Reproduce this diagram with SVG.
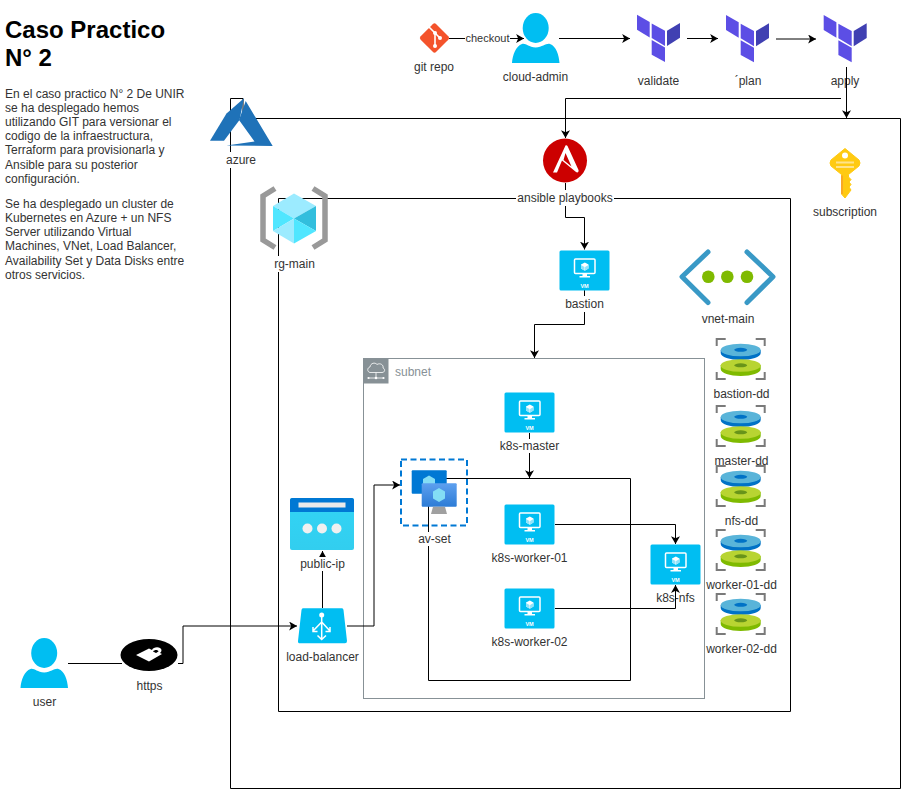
<svg xmlns="http://www.w3.org/2000/svg" width="901" height="789" viewBox="0 0 901 789">
<style>
text{font-family:"Liberation Sans",Arial,sans-serif;font-size:12px;fill:#333}
.l{text-anchor:middle}
.box{fill:none;stroke:#000;stroke-width:1}
.c{fill:none;stroke:#000;stroke-width:1;marker-end:url(#a)}
.n{fill:none;stroke:#000;stroke-width:1}
.bg{fill:#fff}
</style>
<defs>
<marker id="a" viewBox="0 0 8 8" refX="7" refY="4" markerWidth="9" markerHeight="9" markerUnits="userSpaceOnUse" orient="auto"><path d="M0,0L7,4L0,8L1.8,4Z" fill="#000"/></marker>
<linearGradient id="pip" x1="0" y1="0" x2="0" y2="1"><stop offset="0" stop-color="#32D4F5"/><stop offset="1" stop-color="#32CEEF"/></linearGradient>
<linearGradient id="mon" x1="0" y1="0" x2="0" y2="1"><stop offset="0" stop-color="#5EA0EF"/><stop offset="1" stop-color="#2C7CD6"/></linearGradient>
<g id="tf">
<path d="M0,0L12.7,7.3V22.7L0,15Z" fill="#5C4EE5"/>
<path d="M14.7,8.7L28,16V31.3L14.7,23.3Z" fill="#5C4EE5"/>
<path d="M30,16L43,8.3V23L30,31.3Z" fill="#4040B2"/>
<path d="M14.7,25.3L28,32.7V47.3L14.7,40Z" fill="#5C4EE5"/>
</g>
<g id="usr">
<ellipse cx="23.7" cy="15" rx="13" ry="15" fill="#00BEF2"/>
<path d="M0,50C0.5,42 4,33 10,31C14,30 16,34 23.7,34.5C31,34 34,30 38,31C44,33 47,42 47.5,50Z" fill="#00BEF2"/>
</g>
<g id="vm">
<rect width="50" height="40" rx="1.5" fill="#00BEF2"/>
<rect x="15" y="8.5" width="20.5" height="14.5" rx="1" fill="#00BEF2" stroke="#fff" stroke-width="1.5"/>
<path d="M21.5,14L25.3,12L29,14V18L25.3,20.2L21.5,18Z" fill="#fff"/>
<path d="M21.5,14.6L25,16.4V20L21.5,18Z M25.6,16.4L29,14.6V18L25.6,20Z" fill="#8fe3fa"/>
<path d="M23,23H27.5V25.5H30.5V27H20V25.5H23Z" fill="#fff"/>
<text x="25" y="37" text-anchor="middle" style="font-size:5.5px;font-weight:bold;fill:#fff">VM</text>
</g>
<g id="disk">
<path d="M1,8V1H10M40,1H49V8M1,34V41H10M40,41H49V34" fill="none" stroke="#7a7a7a" stroke-width="2"/>
<path d="M5,12V15C5,19 14,22 25,22C36,22 45,19 45,15V12Z" fill="#0072C6"/>
<ellipse cx="25" cy="12" rx="20" ry="6.3" fill="#59B4D9"/>
<ellipse cx="25" cy="11.8" rx="6.5" ry="2" fill="#0072C6"/>
<path d="M5,27V31C5,35 14,38 25,38C36,38 45,35 45,31V27Z" fill="#7FBA00"/>
<ellipse cx="25" cy="27.5" rx="20" ry="6.3" fill="#B8D432"/>
<ellipse cx="25" cy="27.3" rx="6.5" ry="2" fill="#68941A"/>
</g>
</defs>

<g id="containers">
<path class="box" d="M230.5,98.5H243V118.5H900.5V788.5H230.5Z"/>
<path class="box" d="M278.5,198.5H790.5V711.5H278.5Z"/>
<rect x="363.5" y="358.5" width="341" height="340" fill="none" stroke="#879196"/>
</g>

<g id="node-apply">
<use href="#tf" x="823.7" y="15"/>
<text class="l" x="845" y="85">apply</text>
</g>
<g id="node-k8s-nfs">
<use href="#vm" x="650.5" y="544.5"/>
<text class="l" x="675.5" y="602">k8s-nfs</text>
</g>

<g id="connectors">
<path class="c" d="M449,38.5H524"/>
<path class="c" d="M559,38.5H630"/>
<path class="c" d="M687,38.5H718"/>
<path class="c" d="M776,39H816"/>
<path class="c" d="M846.5,67V118"/>
<path class="c" d="M841,98.5H565.5V138"/>
<path class="c" d="M565.5,183V217.5H584.5V249.5"/>
<path class="c" d="M584.5,290V324.5H534.5V358"/>
<path class="c" d="M529.5,433V478"/>
<path class="n" d="M446,478.5H630.5V680.5H428.5V506"/>
<path class="c" d="M555,524.5H675.5V544"/>
<path class="c" d="M555,608.5H675.5V585"/>
<path class="c" d="M347,626H374V485H400"/>
<path class="c" d="M322.5,608V551"/>
<path class="n" d="M68,663.5H122"/>
<path class="c" d="M178,663.5H183V626H297"/>
</g>

<g id="title">
<text x="5" y="38" style="font-size:24px;font-weight:bold;fill:#000">Caso Practico</text>
<text x="5" y="66" style="font-size:24px;font-weight:bold;fill:#000">N° 2</text>
<text x="5" y="98">En el caso practico N° 2 De UNIR</text>
<text x="5" y="112">se ha desplegado hemos</text>
<text x="5" y="126">utilizando GIT para versionar el</text>
<text x="5" y="140">codigo de la infraestructura,</text>
<text x="5" y="154">Terraform para provisionarla y</text>
<text x="5" y="169">Ansible para su posterior</text>
<text x="5" y="183">configuración.</text>
<text x="5" y="208">Se ha desplegado un cluster de</text>
<text x="5" y="222">Kubernetes en Azure + un NFS</text>
<text x="5" y="236">Server utilizando Virtual</text>
<text x="5" y="250">Machines, VNet, Load Balancer,</text>
<text x="5" y="265">Availability Set y Data Disks entre</text>
<text x="5" y="279">otros servicios.</text>
</g>

<g id="edge-label-checkout">
<rect class="bg" x="465" y="31" width="45" height="15"/>
<text class="l" x="487.5" y="42" style="font-size:11px">checkout</text>
</g>

<g id="node-git-repo">
<rect x="423.5" y="27" width="22" height="22" rx="2.5" transform="rotate(45 434.5 38)" fill="#F4532B"/>
<path d="M429,27L440,38M435,33V47" fill="none" stroke="#fff" stroke-width="1.6"/>
<circle cx="435" cy="33" r="2" fill="#fff"/><circle cx="440" cy="38" r="2" fill="#fff"/><circle cx="435" cy="46" r="2" fill="#fff"/>
<text class="l" x="434" y="71">git repo</text>
</g>
<g id="node-cloud-admin">
<use href="#usr" x="512" y="13"/>
<text class="l" x="535.5" y="81">cloud-admin</text>
</g>
<g id="node-validate">
<use href="#tf" x="637" y="14.7"/>
<text class="l" x="658.5" y="85">validate</text>
</g>
<g id="node-plan">
<use href="#tf" x="726" y="15"/>
<text class="l" x="748" y="85">´plan</text>
</g>

<g id="node-azure">
<path d="M244,98.3L226.5,113.5L210,140.7H224L239.5,120Z" fill="#1F72B8"/>
<path d="M245.7,101L239,120L254.5,141.5L226.5,145.5L272.7,146Z" fill="#1F72B8"/>
<rect class="bg" x="225" y="152" width="32" height="16"/>
<text class="l" x="241" y="164">azure</text>
</g>

<g id="node-rg-main">
<path d="M275,188.5L263,196V240L275,247.5M313,188.5L325,196V240L313,247.5" fill="none" stroke="#999" stroke-width="5.5"/>
<path d="M294,193.5L316,206L294,218.5L273,206Z" fill="#9CEBFF"/>
<path d="M273,206L294,218.5L273,231Z" fill="#50E6FF"/>
<path d="M316,206V231L294,218.5Z" fill="#32BEDD"/>
<path d="M273,231L294,218.5V243.5Z" fill="#9CEBFF"/>
<path d="M316,231L294,218.5V243.5Z" fill="#50E6FF"/>
<rect class="bg" x="274" y="256" width="41" height="16"/>
<text class="l" x="294.5" y="268">rg-main</text>
</g>

<g id="node-ansible">
<circle cx="565" cy="160.5" r="22" fill="#CC0000"/>
<path d="M565.5,145.5L553,172.5H557L562,160.5L576,172C577.5,173 579,172 578.5,170L567.5,146C567,145 566,145 565.5,145.5ZM565.5,153L571.5,166.5L563.5,160Z" fill="#fff" fill-rule="evenodd"/>
<rect class="bg" x="516" y="190" width="98" height="16"/>
<text class="l" x="565" y="202">ansible playbooks</text>
</g>

<g id="node-subscription">
<path d="M845,148.5L859,160Q861,163 859,166L848.5,174.5V177L851,179.5L849,182L851,184.5L849,187L851,190L845,198L841.5,194V174.5L831,166Q829,163 831,160Z" fill="#FFCA12" stroke="#FFCA12" stroke-linejoin="round"/>
<circle cx="845" cy="155.5" r="3" fill="#fff"/>
<path d="M836,162.5H854M836,167H854" stroke="#FFE38A" stroke-width="2"/>
<path d="M842,175.5V194" stroke="#F9A825" stroke-width="2"/>
<text class="l" x="845" y="216">subscription</text>
</g>

<g id="node-vnet-main">
<path d="M708,252L682,276.7L708,302.5M747,252L773,276.7L747,302.5" fill="none" stroke="#3999C6" stroke-width="5" stroke-linecap="round" stroke-linejoin="round"/>
<circle cx="708.3" cy="276.7" r="6.3" fill="#7FBA00"/><circle cx="727.3" cy="276.7" r="6.3" fill="#7FBA00"/><circle cx="747" cy="276.7" r="6.3" fill="#7FBA00"/>
<text class="l" x="728" y="323">vnet-main</text>
</g>

<g id="node-bastion">
<use href="#vm" x="559.5" y="250.5"/>
<rect class="bg" x="564" y="296" width="41" height="16"/>
<text class="l" x="584.5" y="308">bastion</text>
</g>

<g id="node-bastion-dd"><use href="#disk" x="715.7" y="338"/><text class="l" x="741.5" y="398">bastion-dd</text></g>
<g id="node-master-dd"><use href="#disk" x="715.7" y="405"/><text class="l" x="741.5" y="465">master-dd</text></g>
<g id="node-nfs-dd"><use href="#disk" x="715.7" y="465"/><text class="l" x="741.5" y="525">nfs-dd</text></g>
<g id="node-worker-01-dd"><use href="#disk" x="715.7" y="529"/><text class="l" x="741.5" y="589">worker-01-dd</text></g>
<g id="node-worker-02-dd"><use href="#disk" x="715.7" y="593"/><text class="l" x="741.5" y="653">worker-02-dd</text></g>

<g id="node-subnet">
<rect x="363.5" y="358.5" width="25" height="25" fill="#879196"/>
<path d="M370,372.5C367,372 367,367.5 370,367C370.5,363 375,362 377,364.5C380,362.5 384,365 383,368C385.5,369 385,372.5 382,372.5Z" fill="none" stroke="#fff" stroke-width="0.8"/>
<path d="M376,372.5V378M369,378H383" fill="none" stroke="#fff" stroke-width="0.8"/>
<circle cx="376" cy="378" r="1.3" fill="#fff"/><circle cx="368.5" cy="378" r="1.1" fill="#fff"/><circle cx="383.5" cy="378" r="1.1" fill="#fff"/>
<text x="395" y="376" style="fill:#879196">subnet</text>
</g>

<g id="node-k8s-master">
<use href="#vm" x="504.5" y="392.5"/>
<rect class="bg" x="500" y="439" width="60" height="14"/>
<text class="l" x="529.5" y="450">k8s-master</text>
</g>
<g id="node-k8s-worker-01">
<use href="#vm" x="504.5" y="504.5"/>
<text class="l" x="529.5" y="562">k8s-worker-01</text>
</g>
<g id="node-k8s-worker-02">
<use href="#vm" x="504.5" y="588.5"/>
<text class="l" x="529.5" y="646">k8s-worker-02</text>
</g>

<g id="node-av-set">
<rect x="401" y="459.5" width="66" height="66" fill="none" stroke="#0078D4" stroke-width="2" stroke-dasharray="6 3.5"/>
<rect x="411.7" y="470.3" width="35" height="23.5" rx="1" fill="#0078D4"/>
<path d="M429,475.5L435,479V486L429,489.5L423,486V479Z" fill="#83DDF5"/>
<rect x="421.7" y="483.3" width="35" height="23.5" rx="1" fill="url(#mon)"/>
<path d="M439,488L445,491.5V498.5L439,502L433,498.5V491.5Z" fill="#83DDF5"/>
<path d="M433,506.8H445L447,514H431Z" fill="#A0A0A0"/>
<rect class="bg" x="416" y="532" width="36" height="14"/>
<text class="l" x="434.5" y="543">av-set</text>
</g>

<g id="node-public-ip">
<rect x="290" y="498" width="64" height="52" rx="2" fill="url(#pip)"/>
<path d="M290,512V500C290,499 291,498 292,498H352C353,498 354,499 354,500V512Z" fill="#0078D4"/>
<rect x="298.5" y="502.5" width="47" height="5" fill="#eaeaea"/>
<circle cx="307.5" cy="528.5" r="5" fill="#f0f0f0"/><circle cx="322" cy="528.5" r="5" fill="#f0f0f0"/><circle cx="336.5" cy="528.5" r="5" fill="#f0f0f0"/>
<rect class="bg" x="298" y="557" width="49" height="14"/>
<text class="l" x="322.5" y="568">public-ip</text>
</g>

<g id="node-load-balancer">
<path d="M303,608.3H342Q343.3,608.3 343.5,610L347,641Q347,643.3 345,643.3H300Q297.7,643.3 298,641L301.5,610Q301.7,608.3 303,608.3Z" fill="#00BEF2"/>
<circle cx="321.7" cy="615" r="2.5" fill="#fff"/>
<path d="M321.7,615V639M321.7,622L313,631M321.7,622L330,631M313,627V631.5H317.5M330,627V631.5H325.5M317.5,635.5L321.7,639.5L326,635.5" fill="none" stroke="#fff" stroke-width="1.5"/>
<text class="l" x="322.5" y="661">load-balancer</text>
</g>

<g id="node-user">
<use href="#usr" x="20.5" y="638"/>
<text class="l" x="44.5" y="706">user</text>
</g>

<g id="node-https">
<ellipse cx="149" cy="655" rx="28.5" ry="16" fill="#000"/>
<path d="M136,655L149,648.5L152,650C153,647 158,646.5 160,648C162,649 162,651.5 160,653L162,654L149,661.5ZM153,651.5L156,653L158.5,651.5C158,649.5 154.5,649.5 153,651.5Z" fill="#fff" fill-rule="evenodd"/>
<text class="l" x="149.5" y="690">https</text>
</g>
</svg>
